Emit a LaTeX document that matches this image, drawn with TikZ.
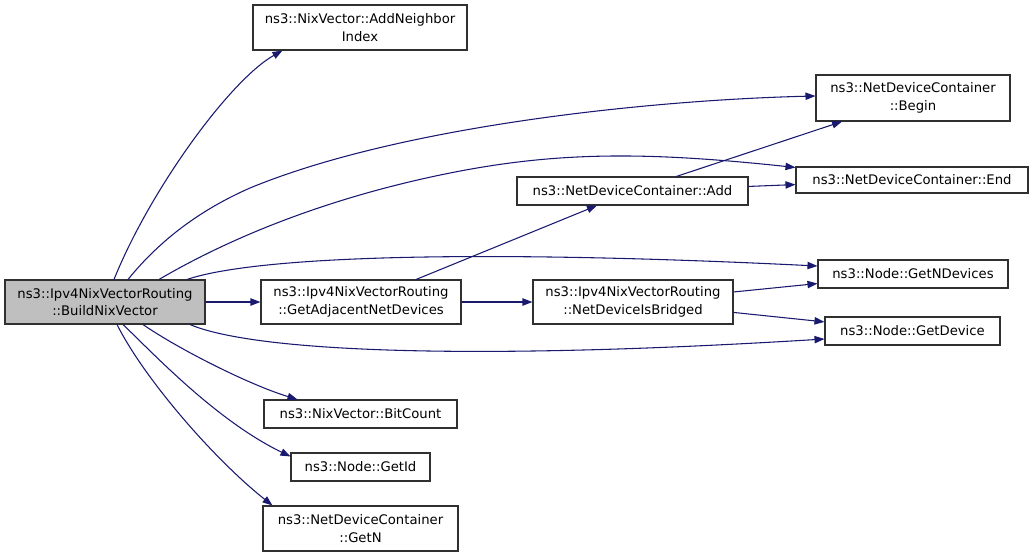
\documentclass[tikz,border=0pt]{standalone}
\usepackage{fontspec}
\setmainfont{DejaVu Sans}
\usetikzlibrary{arrows.meta,calc}
\definecolor{edgecol}{HTML}{191970}
\definecolor{boxline}{HTML}{303030}
\definecolor{mainfill}{HTML}{BFBFBF}
\begin{document}
\begin{tikzpicture}[x=0.75pt,y=-0.75pt,
  fn/.style={draw=boxline,line width=0.8pt,fill=white,rectangle,align=center,inner sep=0pt,
    font=\fontsize{9.9pt}{13pt}\selectfont},
  e/.style={draw=edgecol,line width=0.8pt,-{Triangle[length=7.5pt,width=5.5pt]}}]
\useasboundingbox (0,0) rectangle (1035,557);
\node[fn,fill=mainfill,minimum width=150pt,minimum height=33pt] (main) at (105,302) {ns3::Ipv4NixVectorRouting\\::BuildNixVector};
\node[fn,minimum width=160.5pt,minimum height=33.75pt] (addn) at (360,27.5) {ns3::NixVector::AddNeighbor\\Index};
\node[fn,minimum width=145.5pt,minimum height=34.5pt] (begin) at (913,98) {ns3::NetDeviceContainer\\::Begin};
\node[fn,minimum width=174pt,minimum height=19.5pt] (end) at (912,180) {ns3::NetDeviceContainer::End};
\node[fn,minimum width=173.25pt,minimum height=21pt] (add) at (632.5,191) {ns3::NetDeviceContainer::Add};
\node[fn,minimum width=142.5pt,minimum height=21pt] (gnd) at (913,274) {ns3::Node::GetNDevices};
\node[fn,minimum width=150pt,minimum height=33pt] (adj) at (361,302) {ns3::Ipv4NixVectorRouting\\::GetAdjacentNetDevices};
\node[fn,minimum width=150pt,minimum height=33pt] (brid) at (633,302) {ns3::Ipv4NixVectorRouting\\::NetDeviceIsBridged};
\node[fn,minimum width=131.25pt,minimum height=21pt] (gdev) at (912.5,331) {ns3::Node::GetDevice};
\node[fn,minimum width=144.75pt,minimum height=21pt] (bit) at (360.5,414) {ns3::NixVector::BitCount};
\node[fn,minimum width=104.25pt,minimum height=21pt] (gid) at (360.5,467) {ns3::Node::GetId};
\node[fn,minimum width=146.25pt,minimum height=33.75pt] (getn) at (360.5,528.5) {ns3::NetDeviceContainer\\::GetN};
% curved edges from main
\draw[e] ($(main.north)+(9,0)$) .. controls (150,190) and (230,80) .. ($(addn.south west)+(30,0)$);
\draw[e] ($(main.north)+(23,0)$) .. controls (160,240) and (200,210) .. (250,188) .. controls (400,126) and (650,100) .. ($(begin.west)+(0,-2)$);
\draw[e] ($(main.north)+(54,0)$) .. controls (240,232) and (340,195) .. (450,173) .. controls (560,151) and (650,152) .. ($(end.north west)+(0,1)$);
\draw[e] ($(main.north)+(82,0)$) .. controls (250,258) and (450,248) .. ($(gnd.west)+(0,-8)$);
\draw[e] (main) -- (adj);
\draw[e] ($(main.south)+(85,0)$) .. controls (250,350) and (450,362) .. ($(gdev.west)+(0,8)$);
\draw[e] ($(main.south)+(38,0)$) .. controls (180,350) and (250,385) .. ($(bit.north west)+(34,0)$);
\draw[e] ($(main.south)+(18,0)$) .. controls (150,350) and (215,420) .. ($(gid.north west)+(0,4)$);
\draw[e] ($(main.south)+(12,0)$) .. controls (145,380) and (215,460) .. ($(getn.north west)+(10,0)$);
% straight edges
\draw[e] (adj) -- (add);
\draw[e] (adj) -- (brid);
\draw[e] (add) -- (begin);
\draw[e] (add) -- (end);
\draw[e] (brid) -- (gnd);
\draw[e] (brid) -- (gdev);
\end{tikzpicture}
\end{document}
